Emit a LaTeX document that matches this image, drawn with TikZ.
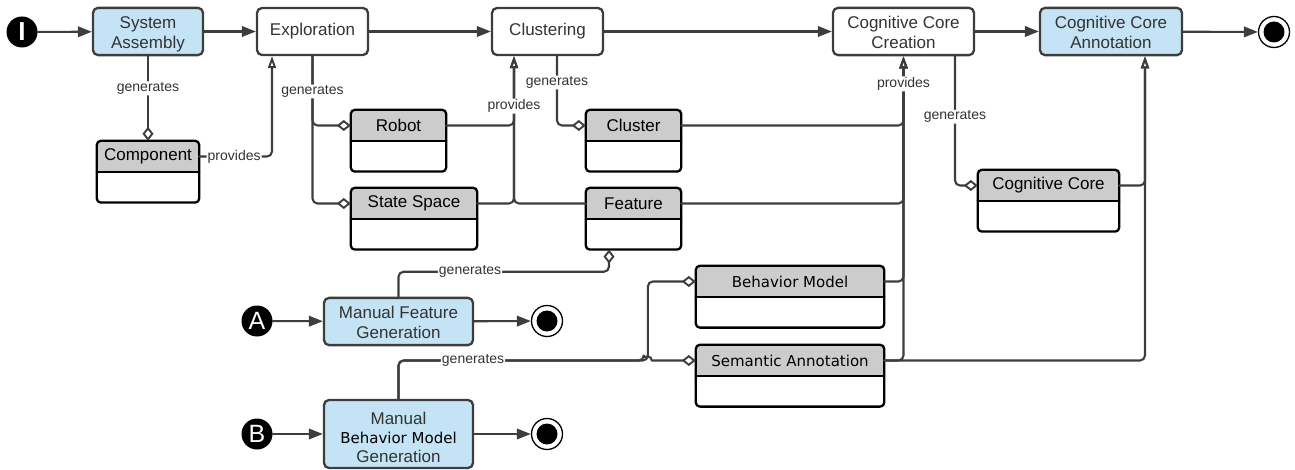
\documentclass[tikz,border=0pt]{standalone}
\usepackage{fontspec}
\setmainfont{Liberation Sans}
\newfontfamily\dejavu{DejaVu Sans}
\usepackage{tikz}
\usetikzlibrary{arrows.meta}
\usetikzlibrary{positioning}
\definecolor{actblue}{rgb}{0.77, 0.89, 0.96}
\definecolor{headgray}{rgb}{0.8, 0.8, 0.8}
\definecolor{linegray}{rgb}{0.24, 0.24, 0.24}
\definecolor{textgray}{rgb}{0.2, 0.2, 0.2}
\tikzset{
  act/.style={draw=linegray, line width=2.3pt, rounded corners=5pt, fill=white, text=textgray, align=center, inner sep=0pt, minimum height=47pt, font=\fontsize{17}{20.5}\selectfont},
  actb/.style={act, fill=actblue},
  clshead/.style={fill=headgray, rounded corners=4pt, minimum height=31pt, inner sep=0pt, text=black, font=\fontsize{17}{20}\selectfont},
  clsbody/.style={minimum height=30pt, inner sep=0pt},
  clsline/.style={draw=black, line width=2.3pt, rounded corners=4pt},
  startc/.style={circle, fill=black, minimum size=31pt, inner sep=0pt, text=white},
  stopc/.style={circle, draw=black, line width=1.3pt, fill=white, minimum size=31pt, path picture={\fill[black] (path picture bounding box.center) circle (10.5pt);}},
  flow/.style={draw=linegray, line width=2.1pt, -{Triangle[length=14pt, width=10.5pt]}},
  gen/.style={draw=linegray, line width=2.1pt, rounded corners=5pt, -{Diamond[open, length=14pt, width=11pt, line width=1.9pt]}},
  prov/.style={draw=linegray, line width=2.1pt, rounded corners=5pt, -{Triangle[open, length=12pt, width=8pt, line width=1.9pt]}},
  lbl/.style={fill=white, inner sep=1pt, text=textgray, font=\fontsize{14}{16}\selectfont}
}
\begin{document}
\begin{tikzpicture}[line cap=round,line join=round,x=1pt,y=-1pt]
\useasboundingbox (0,0) rectangle (1295,470);
\node[startc] (start) at (22,32) {\fontsize{26}{26}\selectfont\bfseries I};
\node[actb, minimum width=110pt] (sysasm) at (148,31.5) {\rule{0pt}{20.6pt}System\\Assembly\strut};
\node[act, minimum width=111pt] (explor) at (312.5,31.5) {Exploration};
\node[act, minimum width=111pt] (clust) at (547.5,31.5) {Clustering};
\node[act, minimum width=141pt] (ccc) at (903.5,31.5) {\rule{0pt}{20.6pt}Cognitive Core\\Creation\strut};
\node[actb, minimum width=142pt] (cca) at (1111,31.5) {\rule{0pt}{20.6pt}Cognitive Core\\Annotation\strut};
\node[stopc] (stop) at (1274,32) {};
\node[startc] (starta) at (257,321) {\fontsize{25}{25}\selectfont A};
\node[actb, minimum width=149pt] (mfg) at (398.5,321.5) {\rule{0pt}{20.6pt}Manual Feature\\Generation\strut};
\node[stopc] (stopa) at (547,321) {};
\node[startc] (startb) at (257,434) {\fontsize{25}{25}\selectfont B};
\node[actb, minimum width=149pt, minimum height=68pt, font=\fontsize{17}{19}\selectfont] (mbmg) at (398.5,434) {\rule{0pt}{24pt}Manual\\{\dejavu\color{black}\fontsize{15}{18}\selectfont Behavior Model}\\Generation\strut};
\node[stopc] (stopb) at (547,434) {};
\foreach \n/\x/\y/\w/\t in {component/148/156.5/102/Component, robot/398.5/125.5/95/Robot, space/414/203.5/126/State Space, cluster/633.5/125.5/95/Cluster, feature/633.5/203.5/95/Feature, core/1048.5/185.5/141/Cognitive Core, model/790/281.5/188/{\dejavu\fontsize{15}{18}\selectfont Behavior Model}, annot/790/360.5/188/{\dejavu\fontsize{15}{18}\selectfont Semantic Annotation}}
{
\node[clshead, minimum width=\w pt] (\n) at (\x,\y) {\t};
\node[clsbody, minimum width=\w pt, below=0pt of \n] (\n-b) {};
\draw[clsline] (\n.north west) rectangle (\n-b.south east);
\draw[clsline] (\n.south west) -- (\n.south east);
}
\coordinate (hop) at ([xshift=-48pt]annot.west);
\draw[flow] (start) -- (sysasm);
\draw[flow] (sysasm) -- (explor);
\draw[flow] (explor) -- (clust);
\draw[flow] (clust) -- (ccc);
\draw[flow] (ccc) -- (cca);
\draw[flow] (cca) -- (stop);
\draw[flow] (starta) -- (mfg);
\draw[flow] (mfg) -- (stopa);
\draw[flow] (startb) -- (mbmg);
\draw[flow] (mbmg) -- (stopb);
\draw[gen] (sysasm) -- (component) node[lbl, pos=0.38] {generates};
\draw[gen] (explor.south) |- (space.west);
\draw[gen] (explor.south) |- (robot.west) node[lbl, pos=0.255] {generates};
\draw[gen] ([xshift=9.5pt]clust.south) |- (cluster.west) node[lbl, pos=0.19] {generates};
\draw[gen] ([xshift=51.5pt]ccc.south) |- (core.west) node[lbl, pos=0.234] {generates};
\draw[gen] (mfg.north) -- ([yshift=25pt]mfg.north) -| ([xshift=-24.5pt]feature-b.south) node[lbl, pos=0.17] {generates};
\draw[gen] (mbmg.north) |- (hop) |- (model.west);
\draw[gen] (mbmg.north) |- ([xshift=-4pt]hop) node[lbl, pos=0.652] {generates} [sharp corners] arc[start angle=180, end angle=0, radius=4pt] -- (annot.west);
\draw[prov] (component.east) -| ([xshift=-40.5pt]explor.south) node[lbl, pos=0.24] {provides};
\draw[prov] (space.east) -| ([xshift=-33.5pt]clust.south);
\draw[prov] (feature.west) -| ([xshift=-33.5pt]clust.south);
\draw[prov] (robot.east) -| ([xshift=-33.5pt]clust.south) node[lbl, pos=0.64] {provides};
\draw[prov] (feature.east) -| (ccc.south);
\draw[prov] (model.east) -| (ccc.south);
\draw[prov] (annot.east) -| (ccc.south);
\draw[prov] (cluster.east) -| (ccc.south) node[lbl, pos=0.8] {provides};
\draw[prov] (annot.east) -| ([xshift=34pt]cca.south);
\draw[prov] (core.east) -| ([xshift=34pt]cca.south);
\end{tikzpicture}
\end{document}
